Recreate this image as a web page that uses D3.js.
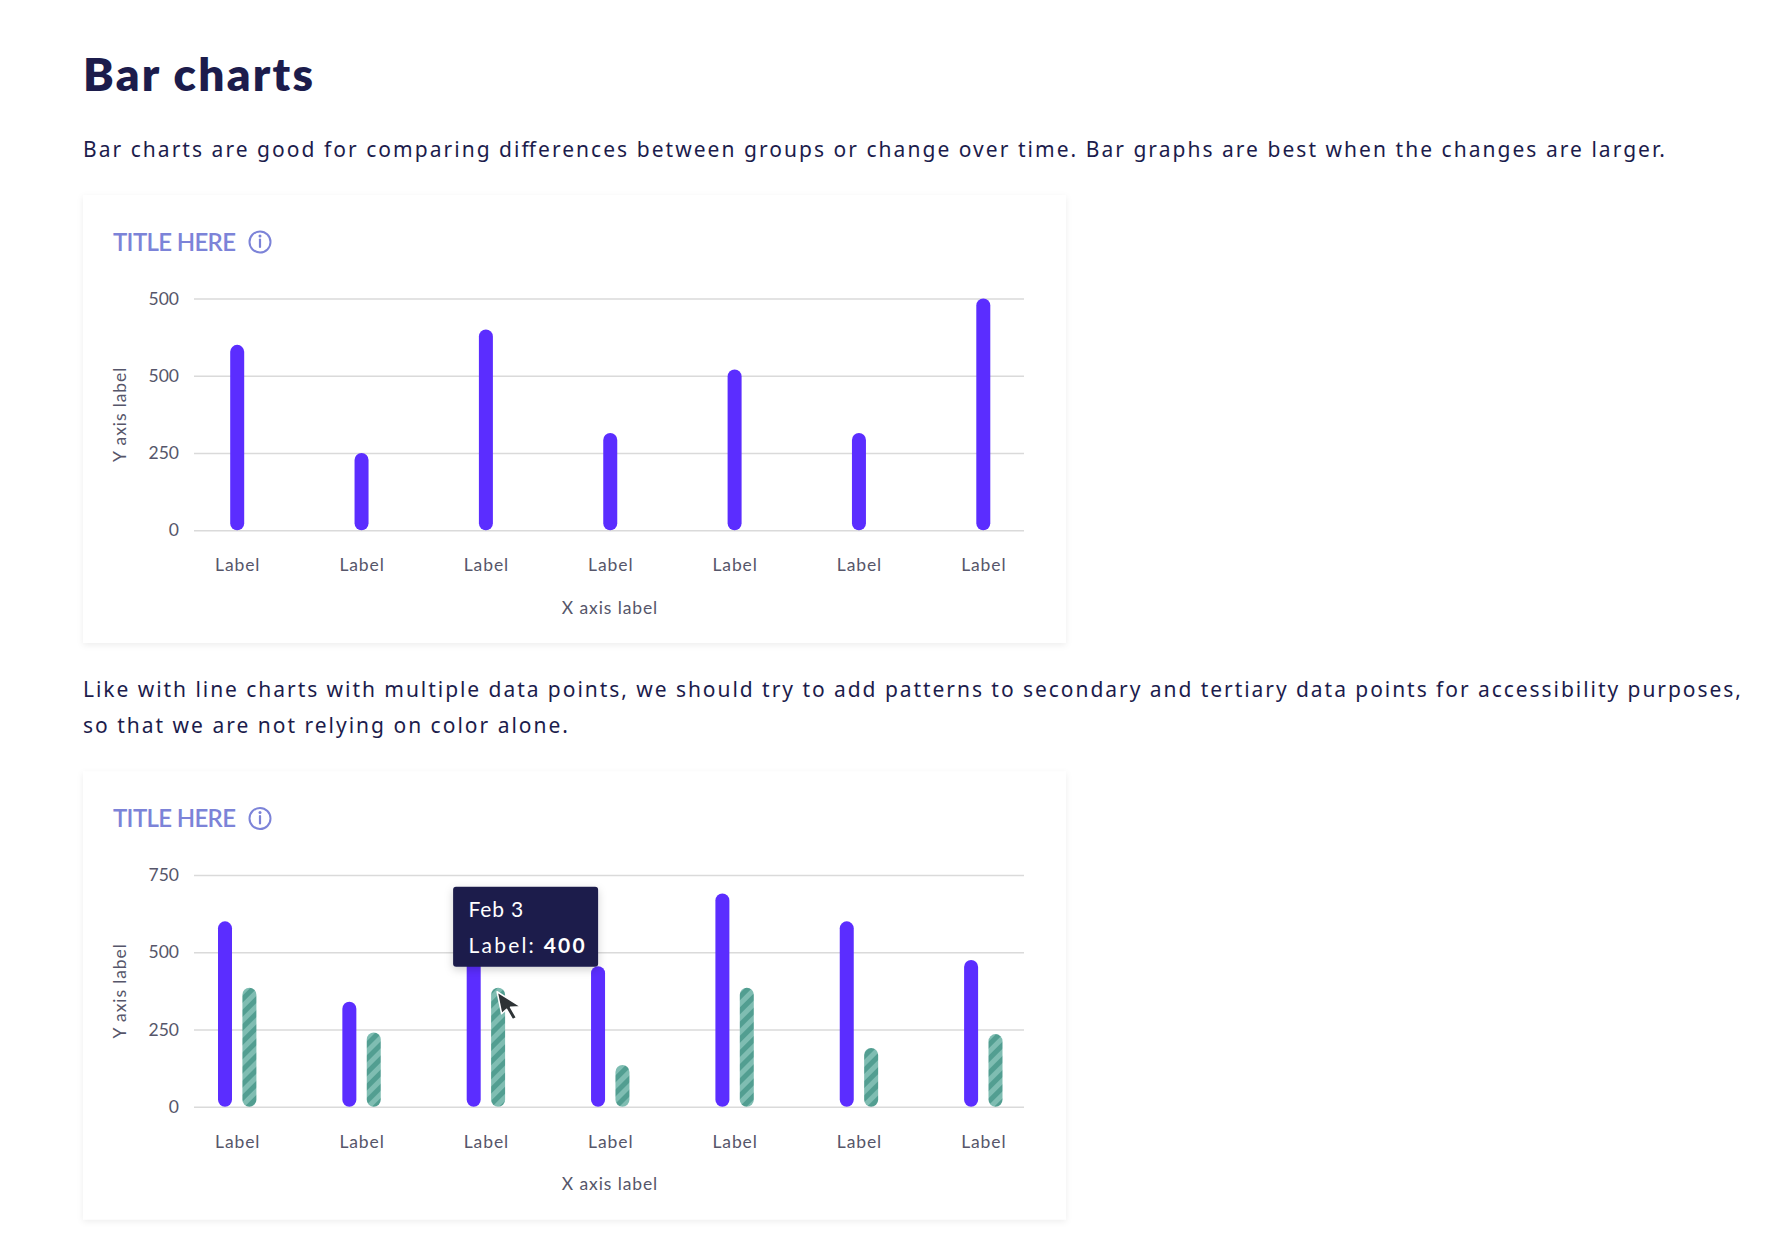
<!DOCTYPE html>
<html>
<head>
<meta charset="utf-8">
<script src="https://cdn.jsdelivr.net/npm/d3@7.9.0/dist/d3.min.js"></script>
<style>
  html, body { margin: 0; padding: 0; background: #fff; }
  svg { display: block; font-family: Lato, "Noto Sans", sans-serif; }
</style>
</head>
<body>
<svg id="page" width="1778" height="1242"></svg>
<script>
// data
const categories = ["Label", "Label", "Label", "Label", "Label", "Label", "Label"];
const barValues = [600, 250, 650, 315, 520, 315, 750];        // first chart
const primaryValues = [600, 340, 550, 455, 690, 600, 475];    // second chart, solid purple
const secondaryValues = [385, 240, 385, 135, 385, 190, 235];  // second chart, striped green
const tickValues = [0, 250, 500, 750];
const tickLabels1 = ["0", "250", "500", "500"];
const tickLabels2 = ["0", "250", "500", "750"];
const tooltipIndex = 2;
const tooltipDate = "Feb 3";
const tooltipName = "Label";
const tooltipValue = 400;

const NAVY = "#1c1c4c";
const PURPLE = "#5b2dff";
const TITLE_BLUE = "#7c83d8";
const GREY_TEXT = "#56566a";

const svg = d3.select("#page");
const defs = svg.append("defs");

// soft card shadow
const shadow = defs.append("filter").attr("id", "cardShadow")
  .attr("x", "-5%").attr("y", "-5%").attr("width", "110%").attr("height", "115%");
shadow.append("feDropShadow").attr("dx", 0).attr("dy", 2)
  .attr("stdDeviation", 3).attr("flood-color", "#000").attr("flood-opacity", 0.07);

const tipShadow = defs.append("filter").attr("id", "tipShadow")
  .attr("x", "-20%").attr("y", "-20%").attr("width", "140%").attr("height", "150%");
tipShadow.append("feDropShadow").attr("dx", 0).attr("dy", 3)
  .attr("stdDeviation", 4).attr("flood-color", "#000").attr("flood-opacity", 0.18);

// diagonal stripes for the secondary series
const stripes = defs.append("pattern").attr("id", "stripes")
  .attr("patternUnits", "userSpaceOnUse")
  .attr("width", 10).attr("height", 10)
  .attr("patternTransform", "rotate(45)");
stripes.append("rect").attr("width", 10).attr("height", 10).attr("fill", "#7fbdb2");
stripes.append("rect").attr("width", 5).attr("height", 10).attr("fill", "#529e91");

// page text
svg.append("text")
  .attr("x", 83).attr("y", 90.5)
  .attr("font-size", 46).attr("font-weight", 800).attr("fill", NAVY)
  .attr("textLength", 230).attr("lengthAdjust", "spacing")
  .text("Bar charts");

function paragraph(y, width, str) {
  svg.append("text")
    .attr("x", 83).attr("y", y)
    .attr("font-family", "'Noto Sans', sans-serif")
    .attr("font-size", 21).attr("fill", NAVY)
    .attr("textLength", width).attr("lengthAdjust", "spacing")
    .text(str);
}
paragraph(157, 1582, "Bar charts are good for comparing differences between groups or change over time. Bar graphs are best when the changes are larger.");
paragraph(697, 1658, "Like with line charts with multiple data points, we should try to add patterns to secondary and tertiary data points for accessibility purposes,");
paragraph(733, 485, "so that we are not relying on color alone.");

function drawCard(top, tickLabels) {
  const card = svg.append("g").attr("transform", `translate(0,${top})`);

  card.append("rect")
    .attr("x", 83).attr("y", 0).attr("width", 983).attr("height", 448)
    .attr("fill", "#fff").attr("filter", "url(#cardShadow)");

  card.append("text")
    .attr("x", 113).attr("y", 55.5)
    .attr("font-size", 24).attr("font-weight", 600).attr("fill", TITLE_BLUE)
    .attr("textLength", 123).attr("lengthAdjust", "spacing")
    .text("TITLE HERE");

  // info icon
  const icon = card.append("g").attr("transform", "translate(260,47)");
  icon.append("circle").attr("r", 10.5).attr("fill", "none")
    .attr("stroke", TITLE_BLUE).attr("stroke-width", 2);
  icon.append("circle").attr("cy", -6).attr("r", 1.5).attr("fill", TITLE_BLUE);
  icon.append("line").attr("y1", -2.5).attr("y2", 5)
    .attr("stroke", TITLE_BLUE).attr("stroke-width", 2.2).attr("stroke-linecap", "round");

  const x = d3.scalePoint().domain(d3.range(categories.length)).range([237.2, 983.3]);
  const y = d3.scaleLinear().domain([0, 750]).range([335.2, 103.5]);

  // y axis with gridlines
  const yAxis = card.append("g")
    .attr("transform", "translate(194,0)")
    .call(d3.axisLeft(y).tickValues(tickValues)
      .tickFormat((d, i) => tickLabels[i])
      .tickSize(-830).tickPadding(15));
  yAxis.select(".domain").remove();
  yAxis.selectAll(".tick line").attr("stroke", "#dadada").attr("stroke-width", 1.5);
  yAxis.selectAll(".tick text")
    .attr("font-size", 17.5).attr("fill", GREY_TEXT).attr("font-family", "Lato, sans-serif");

  // x axis labels
  const xAxis = card.append("g")
    .attr("transform", `translate(0,${y(0)})`)
    .call(d3.axisBottom(x).tickFormat(i => categories[i]).tickSize(0).tickPadding(28.5));
  xAxis.select(".domain").remove();
  xAxis.selectAll(".tick text")
    .attr("font-size", 17.5).attr("fill", GREY_TEXT).attr("letter-spacing", 0.9)
    .attr("font-family", "Lato, sans-serif");

  card.append("text")
    .attr("x", 610).attr("y", 418.5).attr("text-anchor", "middle")
    .attr("font-size", 17.5).attr("fill", GREY_TEXT).attr("letter-spacing", 0.9)
    .text("X axis label");

  card.append("text")
    .attr("transform", `translate(126,${(y(0) + y(750)) / 2}) rotate(-90)`)
    .attr("text-anchor", "middle")
    .attr("font-size", 17.5).attr("fill", GREY_TEXT).attr("letter-spacing", 0.9)
    .text("Y axis label");

  return { card, x, y };
}

function drawBars(g, x, y, values, offset, fill) {
  g.append("g").selectAll("rect")
    .data(values)
    .join("rect")
    .attr("x", (d, i) => x(i) + offset - 7)
    .attr("width", 14)
    .attr("y", d => y(d))
    .attr("height", d => y(0) - y(d))
    .attr("rx", 7)
    .attr("fill", fill);
}

// chart 1
const c1 = drawCard(195, tickLabels1);
drawBars(c1.card, c1.x, c1.y, barValues, 0, PURPLE);

// chart 2
const c2 = drawCard(771.5, tickLabels2);
drawBars(c2.card, c2.x, c2.y, primaryValues, -12.2, PURPLE);
drawBars(c2.card, c2.x, c2.y, secondaryValues, 12.2, "url(#stripes)");

// tooltip over the hovered secondary bar
const hx = c2.x(tooltipIndex) + 12.2;
const hy = c2.y(secondaryValues[tooltipIndex]);
const tip = c2.card.append("g").attr("transform", `translate(${hx - 45},${hy - 101})`);
tip.append("rect").attr("width", 145).attr("height", 80).attr("rx", 3)
  .attr("fill", NAVY).attr("filter", "url(#tipShadow)");
tip.append("text").attr("x", 15.5).attr("y", 30)
  .attr("font-size", 21).attr("fill", "#fff").attr("letter-spacing", 0.8)
  .text(tooltipDate);
const tipLine = tip.append("text").attr("x", 15.5).attr("y", 66.5)
  .attr("font-size", 21).attr("fill", "#fff")
  .attr("textLength", 116).attr("lengthAdjust", "spacing");
tipLine.append("tspan").text(tooltipName + ": ");
tipLine.append("tspan").attr("font-weight", 700).text(tooltipValue);

// mouse pointer
c2.card.append("path")
  .attr("transform", `translate(${hx - 1},${hy + 4})`)
  .attr("d", "M0,0 L4.5,22 L9.5,17.5 L15.5,28 L19.5,26 L13.5,15.5 L24,15 Z")
  .attr("fill", "#2e3336").attr("stroke", "#fff").attr("stroke-width", 1.5)
  .attr("stroke-linejoin", "round");
</script>
</body>
</html>
